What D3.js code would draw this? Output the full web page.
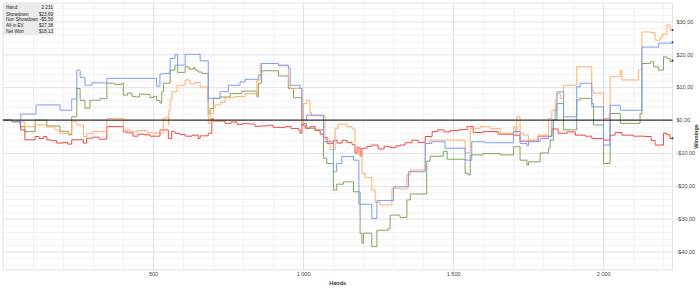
<!DOCTYPE html>
<html><head><meta charset="utf-8">
<script src="https://cdn.jsdelivr.net/npm/d3@7"></script>
<style>body{margin:0;background:#fff}svg{display:block}</style>
</head><body>
<svg id="c" width="700" height="290"></svg>
<script>
const legendLabels = ["Hand:", "Showdown", "Non Showdown", "All-in EV", "Net Won"];
const legendValues = ["2 231", "$23,69", "-$5,56", "$27,38", "$18,13"];
const yTicks = [-40, -30, -20, -10, 0, 10, 20, 30];
const xTicks = [500, 1000, 1500, 2000];
const totalHands = 2231;

const showdown = [[0,0],[30,-0.5],[57,-1.2],[59,1.8],[110,4.6],[190,3.0],[229,6.4],[246,15.2],[257,13],[273,10.6],[296,11.3],[346,12.7],[512,10.3],[523,14.0],[533,14.2],[557,18.7],[573,20.0],[582,16.7],[607,20.0],[657,18.0],[684,6.6],[723,8.6],[751,10.6],[790,11.6],[807,12.4],[851,13.7],[862,17.2],[918,16.7],[951,15.8],[957,10.6],[990,9.6],[996,0],[1012,1.5],[1068,-6.6],[1101,-15.7],[1112,-13.2],[1129,-11.1],[1168,-12.2],[1186,-25.6],[1229,-29.9],[1246,-24.5],[1301,-20.3],[1351,-15.7],[1407,-7.1],[1429,-6.6],[1473,-8.6],[1540,-12.2],[1562,-6.6],[1607,-6.9],[1701,-3.5],[1723,-7.1],[1746,-7.8],[1751,-6.6],[1790,-5.6],[1818,-5.0],[1829,0],[1840,3.0],[1846,8.6],[1868,1.0],[1912,10.1],[1923,11.2],[1962,4.0],[2001,-7.6],[2023,4.5],[2057,3.0],[2129,22.2],[2185,23.4],[2231,23.69]];

const nonShowdown = [[0,0],[30,-0.5],[57,-1.2],[59,-3.0],[73,-6.0],[107,-5.0],[120,-5.6],[135,-5.0],[146,-6.0],[160,-6.3],[179,-7.0],[200,-6.8],[215,-7.3],[229,-6.0],[268,-7.0],[279,-5.5],[300,-5.2],[320,-5.8],[346,-2.0],[401,-3.6],[415,-3.9],[433,-4.9],[450,-4.3],[470,-4.5],[490,-4.9],[523,-3.0],[551,-5.6],[562,-3.5],[573,-4.0],[590,-4.4],[607,-4.9],[630,-4.6],[651,-5.6],[657,-4.8],[684,-4.0],[696,0.5],[701,-0.3],[740,-1.0],[760,-0.6],[780,-1.3],[800,-1.0],[820,-1.2],[840,-1.9],[860,-1.8],[880,-1.6],[900,-2.2],[920,-2.3],[940,-2.0],[960,-2.6],[985,-3.0],[990,-4.0],[996,-1.5],[1007,-2.5],[1023,-2.0],[1040,-3.2],[1057,-4.3],[1067,-5.3],[1080,-7.1],[1101,-6.1],[1113,-7.0],[1130,-6.2],[1146,-6.8],[1163,-7.5],[1173,-10.1],[1180,-8.4],[1190,-10.9],[1196,-8.6],[1212,-8.0],[1229,-7.6],[1250,-8.8],[1270,-8.0],[1290,-8.4],[1310,-7.8],[1323,-7.6],[1340,-6.9],[1363,-6.1],[1383,-6.8],[1407,-5.0],[1430,-3.5],[1447,-3.0],[1470,-3.6],[1490,-3.2],[1520,-2.9],[1547,-2.0],[1567,-3.8],[1600,-3.5],[1650,-4.3],[1701,-4.6],[1723,-6.4],[1783,-4.9],[1829,-2.7],[1850,-4.0],[1880,-3.6],[1907,-4.6],[1940,-4.9],[1962,-5.6],[2001,-6.1],[2023,-4.6],[2040,-3.8],[2063,-4.6],[2100,-4.9],[2140,-5.0],[2160,-6.2],[2173,-7.6],[2201,-4.0],[2212,-4.5],[2223,-5.6],[2231,-5.56]];

const allInEV = [[0,0],[30,-0.5],[57,-1.2],[59,-0.6],[73,-2.0],[107,-1.5],[146,-2.1],[173,-3.0],[190,-4.0],[229,-0.5],[246,-1.5],[268,-5.0],[279,-4.0],[300,-3.4],[323,-3.5],[346,0.5],[401,-3.0],[423,-3.5],[450,-3.2],[480,-3.9],[512,-4.0],[534,0.5],[543,0.9],[551,-1.5],[553,3.0],[557,6.1],[563,8.6],[580,10.6],[607,12.2],[623,11.0],[640,11.4],[657,10.1],[682,5.6],[684,-1.0],[690,2.0],[701,3.6],[707,4.6],[725,5.4],[740,6.8],[770,7.2],[807,8.1],[840,7.8],[846,12.2],[857,17.2],[918,16.5],[951,10.6],[957,9.6],[996,-1.0],[1001,5.0],[1012,6.1],[1023,2.3],[1028,1.3],[1073,-6.1],[1090,-9.0],[1107,-2.5],[1117,-1.2],[1146,-2.0],[1163,-2.7],[1173,-8.1],[1184,-10.6],[1196,-16.2],[1207,-17.5],[1229,-21.3],[1240,-25.0],[1257,-25.8],[1296,-20.8],[1323,-21.0],[1346,-16.7],[1357,-15.2],[1407,-7.1],[1423,-6.1],[1533,-6.3],[1540,-10.0],[1557,-2.5],[1590,-2.0],[1623,-2.6],[1657,-4.0],[1701,-2.0],[1707,-4.0],[1712,1.0],[1723,-4.0],[1734,-4.6],[1751,-6.1],[1783,-4.6],[1818,0.5],[1829,3.0],[1840,6.1],[1846,8.1],[1857,6.5],[1868,10.6],[1912,16.2],[1962,9.1],[1967,8.2],[2001,0.5],[2017,0.9],[2023,13.2],[2057,15.2],[2062,12.2],[2118,15.2],[2129,26.8],[2157,26.6],[2173,24.3],[2190,25.1],[2197,26.1],[2212,28.9],[2223,27.4],[2231,27.38]];

const netWon = [[0,0],[30,-0.5],[57,-1.5],[59,-2.0],[73,-3.5],[107,0],[146,-1.8],[190,-3.4],[218,-4.5],[229,1.0],[246,9.6],[257,6.0],[273,3.6],[290,6.0],[323,6.5],[346,11.2],[373,10.8],[396,11.2],[401,7.6],[415,8.2],[430,7.2],[440,7.0],[455,7.9],[473,7.8],[490,6.8],[500,7.2],[512,6.0],[523,5.2],[529,8.6],[535,11.2],[557,15.2],[573,16.7],[582,14.5],[607,16.2],[620,15.5],[635,16.0],[640,15.2],[650,14.6],[663,14.2],[684,2.0],[690,3.5],[701,6.6],[723,7.0],[757,8.1],[796,8.8],[846,7.1],[851,11.2],[862,15.0],[918,13.4],[951,9.6],[968,6.8],[996,-1.5],[1001,-1.0],[1012,-2.5],[1040,-3.0],[1068,-11.6],[1079,-13.2],[1101,-21.3],[1112,-19.5],[1134,-18.8],[1168,-21.8],[1190,-34.5],[1196,-37.5],[1201,-34.4],[1229,-38.5],[1246,-33.5],[1284,-32.9],[1290,-28.9],[1323,-29.6],[1346,-24.3],[1357,-22.5],[1412,-12.5],[1423,-11.0],[1467,-9.5],[1480,-11.9],[1540,-16.2],[1550,-16.7],[1557,-10.6],[1600,-10.2],[1657,-10.6],[1701,-8.1],[1723,-12.2],[1746,-13.7],[1751,-12.7],[1790,-10.0],[1818,-8.5],[1823,-6.1],[1834,0],[1846,5.0],[1868,-3.0],[1912,6.1],[1923,6.6],[1962,5.0],[1968,-1.5],[2001,-13.2],[2023,2.0],[2057,-1.0],[2123,2.0],[2129,17.2],[2157,17.7],[2168,16.2],[2184,15.2],[2201,19.2],[2212,18.7],[2223,17.7],[2231,18.13]];

const seriesList = [
  {name: "Net Won", data: netWon, color: "#7ea75a"},
  {name: "Non Showdown", data: nonShowdown, color: "#f0484a"},
  {name: "All-in EV", data: allInEV, color: "#ffae6a"},
  {name: "Showdown", data: showdown, color: "#7c9cf2"}
];

const svg = d3.select("#c");
const pLeft = 3, pRight = 672.5, pTop = 3, pBottom = 270;
const x = d3.scaleLinear().domain([0, totalHands]).range([pLeft, pRight]);
const y = d3.scaleLinear().domain([-45.6, 35.6]).range([pBottom, pTop]);
const font = "'Liberation Sans', Arial, sans-serif";

// minor gridlines
const minorY = d3.range(-44, 36, 2).filter(v => v % 10 !== 0);
const minorX = d3.range(100, totalHands, 100).filter(v => v % 500 !== 0);
const gMinorY = svg.append("g").attr("transform", `translate(${pLeft},0)`)
  .call(d3.axisLeft(y).tickValues(minorY).tickSize(-(pRight-pLeft)).tickFormat(""));
gMinorY.select(".domain").remove();
gMinorY.selectAll("line").attr("stroke", "#efefef").attr("stroke-width", 0.8);
const gMinorX = svg.append("g").attr("transform", `translate(0,${pBottom})`)
  .call(d3.axisBottom(x).tickValues(minorX).tickSize(-(pBottom-pTop)).tickFormat(""));
gMinorX.select(".domain").remove();
gMinorX.selectAll("line").attr("stroke", "#ececec").attr("stroke-width", 0.8);

// major gridlines
const gMajY = svg.append("g").attr("transform", `translate(${pLeft},0)`)
  .call(d3.axisLeft(y).tickValues(yTicks).tickSize(-(pRight-pLeft)).tickFormat(""));
gMajY.select(".domain").remove();
gMajY.selectAll("line").attr("stroke", "#dedede").attr("stroke-width", 0.9);
const gMajX = svg.append("g").attr("transform", `translate(0,${pBottom})`)
  .call(d3.axisBottom(x).tickValues(xTicks).tickSize(-(pBottom-pTop)).tickFormat(""));
gMajX.select(".domain").remove();
gMajX.selectAll("line").attr("stroke", "#dcdcdc").attr("stroke-width", 0.9);

// frame
svg.append("rect").attr("x", pLeft).attr("y", pTop).attr("width", pRight-pLeft).attr("height", pBottom-pTop)
  .attr("fill", "none").attr("stroke", "#dadada").attr("stroke-width", 0.8);

// x tick labels
const fmtHands = d => d3.format(",")(d).replace(/,/g, "\u00a0");
const gx = svg.append("g").attr("transform", `translate(0,${pBottom})`)
  .call(d3.axisBottom(x).tickValues(xTicks).tickSize(0).tickPadding(2).tickFormat(fmtHands));
gx.select(".domain").remove();
gx.selectAll("text").attr("font-family", font).attr("font-size", 5.5).attr("fill", "#444");

// y tick labels right
const fmtMoney = v => (v < 0 ? "-$" : "$") + d3.format(".2f")(Math.abs(v)).replace(".", ",");
const gy = svg.append("g").attr("transform", `translate(${pRight},0)`)
  .call(d3.axisRight(y).tickValues(yTicks).tickSize(0).tickPadding(4).tickFormat(fmtMoney));
gy.select(".domain").remove();
gy.selectAll("text").attr("font-family", font).attr("font-size", 5.5).attr("fill", "#444");

// axis titles
svg.append("text").attr("x", (pLeft+pRight)/2).attr("y", 285).attr("text-anchor", "middle")
  .attr("font-family", font).attr("font-size", 5.5).attr("font-weight", "bold").attr("fill", "#333").text("Hands");
svg.append("text").attr("transform", `translate(698,${(pTop+pBottom)/2}) rotate(-90)`).attr("text-anchor", "middle")
  .attr("font-family", font).attr("font-size", 5.5).attr("font-weight", "bold").attr("fill", "#333").text("Winnings");

// lines
const line = d3.line().x(d => x(d[0])).y(d => y(d[1])).curve(d3.curveStepAfter);
seriesList.forEach(s => {
  svg.append("path").datum(s.data).attr("d", line).attr("fill", "none")
    .attr("stroke", s.color).attr("stroke-width", 1);
});

// zero line
svg.append("line").attr("x1", pLeft).attr("x2", pRight).attr("y1", y(0)).attr("y2", y(0))
  .attr("stroke", "#333").attr("stroke-width", 1.3);

// end markers
seriesList.forEach(s => {
  const d = s.data[s.data.length-1];
  svg.append("circle").attr("cx", x(d[0])).attr("cy", y(d[1])).attr("r", 1).attr("fill", "#1a2a8a");
});

// legend
const lg = svg.append("g");
lg.append("rect").attr("x", pLeft).attr("y", pTop).attr("width", 51).attr("height", 32).attr("fill", "#ebebeb");
const rowY = [7, 14, 19.7, 25.3, 31];
legendLabels.forEach((t, i) => {
  lg.append("text").attr("x", 6).attr("y", rowY[i]).attr("dy", "0.35em")
    .attr("font-family", font).attr("font-size", 4.6).attr("fill", "#222").text(t);
  lg.append("text").attr("x", 53).attr("y", rowY[i]).attr("dy", "0.35em").attr("text-anchor", "end")
    .attr("font-family", font).attr("font-size", 4.6).attr("fill", "#222").text(legendValues[i]);
});
</script>
</body></html>
